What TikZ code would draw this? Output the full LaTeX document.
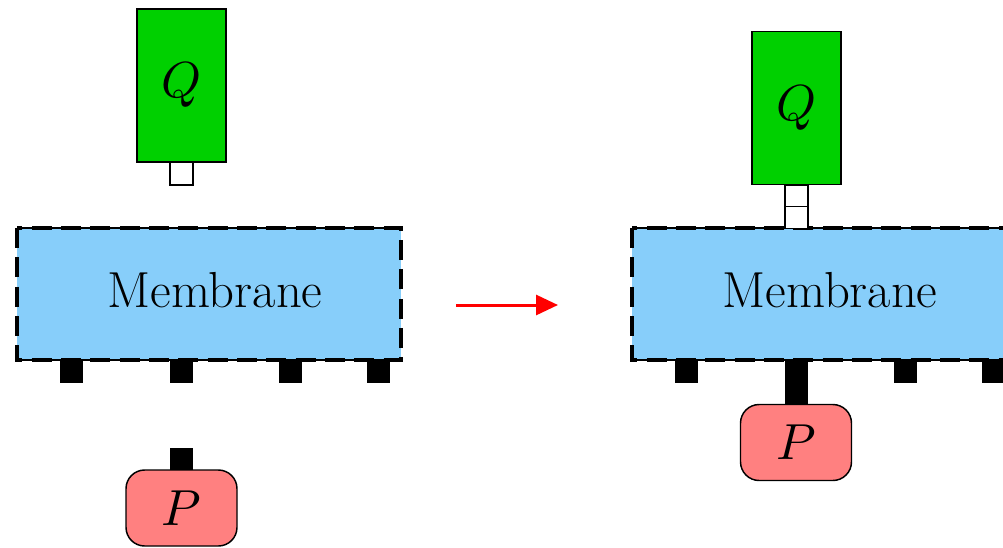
\documentclass[tikz,border=0pt]{standalone}
\DeclareFontFamily{OML}{cmm}{\skewchar\font127 }
\DeclareFontShape{OML}{cmm}{m}{it}{<->cmmi10}{}
\usetikzlibrary{arrows.meta}
\definecolor{qgreen}{RGB}{0,208,0}
\definecolor{memblue}{RGB}{135,206,250}
\definecolor{pred}{RGB}{255,128,128}
\begin{document}
\begin{tikzpicture}[x=0.75pt,y=-0.75pt,
  every node/.style={inner sep=0pt,outer sep=0pt,font=\fontsize{38}{44}\selectfont},
  qbox/.style={draw=black,line width=1.1pt,fill=qgreen,minimum width=66.75pt,minimum height=114.75pt},
  link/.style={draw=black,line width=1.1pt,fill=white,minimum width=17.25pt,minimum height=16.5pt},
  memb/.style={fill=memblue,minimum width=288pt,minimum height=99pt},
  mborder/.style={draw=black,line width=3pt,dash pattern=on 15pt off 7pt},
  peg/.style={fill=black,minimum width=17.25pt,minimum height=17.25pt},
  pbox/.style={draw=black,line width=1.1pt,fill=pred,rounded corners=14pt,minimum width=83.25pt,minimum height=57pt},
  react/.style={red,line width=2.25pt,-{Triangle[length=16.5pt,width=15pt]}}
]
\useasboundingbox (0,0) rectangle (1003,547);
\clip (0,0) rectangle (1003,547);
% ---------- left scene ----------
\node[memb] (m1) at (209,294) {};
\draw[mborder] (m1.north west) rectangle (m1.south east);
\draw[line width=2pt] (m1.north west) -- (m1.north east);
\draw[line width=2pt] (m1.south west) -- (m1.south east);
\node at ([xshift=4.5pt,yshift=3pt]m1.center) (m1t) {Membrane};
\node[peg] (p1a) at (71.5,371.5) {};
\node[peg] (p1b) at (181.5,371.5) {};
\node[peg] (p1c) at (290.5,371.5) {};
\node[peg] (p1d) at (378.5,371.5) {};
\node[qbox] (q1) at (181.5,85.5) {$Q$};
\node[link,minimum height=17.25pt] (l1) at (181.5,173.5) {};
\node[peg] (pp1) at (181.5,459) {};
\node[pbox] (P1) at (181.5,508) {$P$};
% ---------- arrow ----------
\coordinate (a1) at (456,305);
\coordinate (a2) at (558,305);
\draw[react] (a1) -- (a2);
% ---------- right scene ----------
\node[memb] (m2) at (824,294) {};
\draw[mborder] (m2.north west) rectangle (m2.south east);
\draw[line width=2pt] (m2.north west) -- (m2.north east);
\draw[line width=2pt] (m2.south west) -- (m2.south east);
\node at ([xshift=4.5pt,yshift=3pt]m2.center) (m2t) {Membrane};
\node[peg] (p2a) at (686.5,371.5) {};
\node[peg,minimum height=33pt] (p2b) at (796.5,382) {};
\node[peg] (p2c) at (905.5,371.5) {};
\node[peg] (p2d) at (993.5,371.5) {};
\node[qbox] (q2) at (796.5,108) {$Q$};
\node[link] (l2a) at (796.5,196) {};
\node[link] (l2b) at (796.5,217.5) {};
\node[pbox] (P2) at (796,442.5) {$P$};
\end{tikzpicture}
\end{document}
